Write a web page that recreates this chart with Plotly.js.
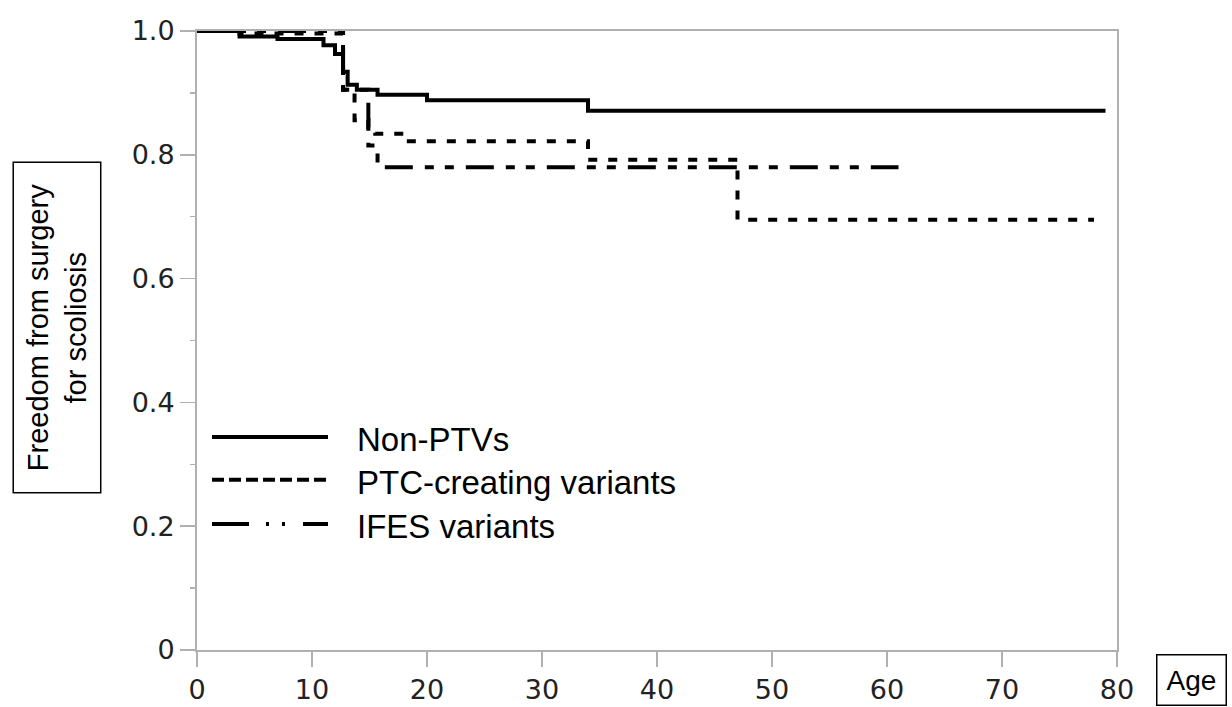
<!DOCTYPE html>
<html>
<head>
<meta charset="utf-8">
<script src="https://cdn.plot.ly/plotly-3.0.1.min.js"></script>
<style>html,body{margin:0;padding:0;background:#fff;}#chart{width:1232px;height:707px;}</style>
</head>
<body>
<div id="chart"></div>
<script>
// Kaplan-Meier step data
const nonPtvAge  = [0, 3.7, 7, 11, 12, 12.7, 13.1, 13.9, 15.7, 20, 34, 79];
const nonPtvSurv = [1, 0.991, 0.987, 0.977, 0.963, 0.934, 0.913, 0.905, 0.897, 0.888, 0.871, 0.871];

const ptcAge  = [0, 3.7, 12.7, 13.7, 14.9, 15.5, 18, 34, 47, 78];
const ptcSurv = [1, 0.996, 0.905, 0.856, 0.845, 0.834, 0.822, 0.792, 0.695, 0.695];

const ifesAge  = [0, 12.7, 14.9, 15.7, 61];
const ifesSurv = [1, 0.905, 0.815, 0.780, 0.780];

const seriesNames = ["Non-PTVs", "PTC-creating variants", "IFES variants"];
const xTicks = [0, 10, 20, 30, 40, 50, 60, 70, 80];
const yTickVals = [0, 0.2, 0.4, 0.6, 0.8, 1.0];
const yTickText = ["0", "0.2", "0.4", "0.6", "0.8", "1.0"];

const plotDash = ["solid", "9px,11px", "28px,12px,9px,11px,9px,12px"];
const legendDash = ["solid", "12px,5px", "37px,17px,3px,13px,3px,18px"];

const traces = [
  {x: nonPtvAge, y: nonPtvSurv, name: seriesNames[0], mode: "lines",
   line: {shape: "hv", color: "#000", width: 4, dash: plotDash[0]}},
  {x: ptcAge, y: ptcSurv, name: seriesNames[1], mode: "lines",
   line: {shape: "hv", color: "#000", width: 4, dash: plotDash[1]}},
  {x: ifesAge, y: ifesSurv, name: seriesNames[2], mode: "lines",
   line: {shape: "hv", color: "#000", width: 4, dash: plotDash[2]}}
];

const legendY = [0.344, 0.275, 0.2036];
const shapes = [];
const annotations = [];
for (let i = 0; i < 3; i++) {
  shapes.push({type: "line", xref: "paper", yref: "paper",
    x0: 0.0163, x1: 0.1424, y0: legendY[i], y1: legendY[i],
    line: {color: "#000", width: 4, dash: legendDash[i]}});
  annotations.push({xref: "paper", yref: "paper", x: 0.1717, y: legendY[i] - 0.004,
    xanchor: "left", yanchor: "middle", showarrow: false, text: seriesNames[i],
    font: {family: "Liberation Sans, Arial, sans-serif", size: 33, color: "#000"}});
}
annotations.push({xref: "paper", yref: "paper", x: -0.1522, y: 0.521,
  xanchor: "center", yanchor: "middle", showarrow: false, textangle: -90,
  text: "Freedom from surgery<br>for scoliosis",
  font: {family: "Liberation Sans, Arial, sans-serif", size: 29, color: "#000"},
  bordercolor: "#000", borderwidth: 1.5, borderpad: 2, width: 325, height: 82,
  bgcolor: "#fff"});
annotations.push({xref: "paper", yref: "paper", x: 1.0815, y: -0.0485,
  xanchor: "center", yanchor: "middle", showarrow: false, text: "Age",
  font: {family: "Liberation Sans, Arial, sans-serif", size: 28, color: "#000"},
  bordercolor: "#000", borderwidth: 1.5, borderpad: 9, bgcolor: "#fff"});

const tickFont = {family: "DejaVu Sans, Verdana, sans-serif", size: 27, color: "#222"};

const layout = {
  width: 1232, height: 707,
  margin: {l: 197, r: 115, t: 31, b: 57, pad: 0},
  paper_bgcolor: "#fff", plot_bgcolor: "#fff",
  showlegend: false,
  xaxis: {range: [0, 80], tickvals: xTicks, ticktext: xTicks.map(String),
    ticks: "outside", ticklen: 15, tickwidth: 1.5, tickcolor: "#b0b0b0",
    showline: true, linecolor: "#b0b0b0", linewidth: 2, mirror: true,
    showgrid: false, zeroline: false, tickfont: tickFont},
  yaxis: {range: [0, 1], tickvals: yTickVals, ticktext: yTickText,
    ticks: "outside", ticklen: 15, tickwidth: 1.5, tickcolor: "#b0b0b0",
    minor: {dtick: 0.1, ticks: "outside", ticklen: 5, tickwidth: 1.5, tickcolor: "#b0b0b0", showgrid: false},
    showline: true, linecolor: "#b0b0b0", linewidth: 2, mirror: true,
    showgrid: false, zeroline: false, tickfont: tickFont},
  shapes: shapes,
  annotations: annotations
};

Plotly.newPlot("chart", traces, layout, {displayModeBar: false, staticPlot: true});
</script>
</body>
</html>
